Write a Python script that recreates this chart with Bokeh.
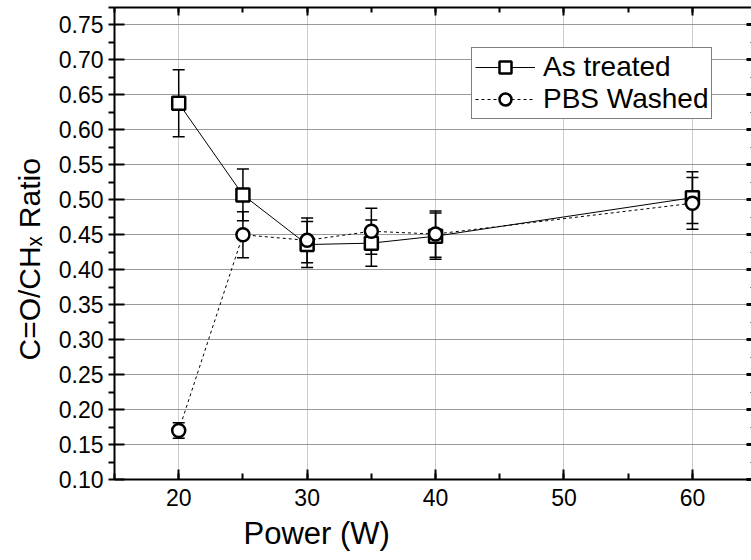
from bokeh.plotting import figure
from bokeh.models import (ColumnDataSource, Whisker, TeeHead, LinearAxis,
                          SingleIntervalTicker, NumeralTickFormatter, Range1d, Legend,
                          CustomJSTickFormatter, Title)
from bokeh.embed import file_html
from bokeh.resources import INLINE

power = [20, 25, 30, 35, 40, 60]
as_treated = [0.638, 0.507, 0.436, 0.438, 0.448, 0.503]
as_treated_err = [0.048, 0.037, 0.033, 0.033, 0.033, 0.037]
pbs_washed = [0.170, 0.450, 0.442, 0.455, 0.451, 0.495]
pbs_washed_err = [0.011, 0.033, 0.032, 0.033, 0.033, 0.037]
x_title = "Power (W)"
y_title = "C=O/CH\u2093 Ratio"
series_names = ["As treated", "PBS Washed"]

FONT = "Liberation Sans"

src_a = ColumnDataSource(dict(
    x=power, y=as_treated,
    upper=[v + e for v, e in zip(as_treated, as_treated_err)],
    lower=[v - e for v, e in zip(as_treated, as_treated_err)]))
src_b = ColumnDataSource(dict(
    x=power, y=pbs_washed,
    upper=[v + e for v, e in zip(pbs_washed, pbs_washed_err)],
    lower=[v - e for v, e in zip(pbs_washed, pbs_washed_err)]))

p = figure(width=751, height=560, output_backend="svg", toolbar_location=None,
           x_range=Range1d(15, 64.6), y_range=Range1d(0.10, 0.775),
           min_border_left=114, min_border_right=0, min_border_top=7,
           min_border_bottom=81)
p.outline_line_color = None
p.background_fill_color = "white"
p.border_fill_color = "white"

xt = SingleIntervalTicker(interval=10, num_minor_ticks=2)
yt = SingleIntervalTicker(interval=0.05, num_minor_ticks=2)

p.xaxis.ticker = xt
p.yaxis.ticker = yt
p.yaxis.formatter = NumeralTickFormatter(format="0.00")

p.xgrid.grid_line_color = "#cccccc"
p.xgrid.grid_line_width = 1
p.ygrid.grid_line_color = "#999999"
p.ygrid.grid_line_width = 1

for ax in (p.xaxis[0], p.yaxis[0]):
    ax.axis_line_width = 2
    ax.major_tick_line_width = 2
    ax.minor_tick_line_width = 2
    ax.major_label_text_font = FONT
    ax.major_label_text_font_size = "23px"
    ax.major_label_text_color = "black"

p.xaxis.major_tick_in = 10
p.xaxis.major_tick_out = 0
p.xaxis.minor_tick_in = 6
p.xaxis.minor_tick_out = 0
p.xaxis.major_label_standoff = 9

p.yaxis.major_tick_in = 10
p.yaxis.major_tick_out = 0
p.yaxis.minor_tick_in = 0
p.yaxis.minor_tick_out = 6
p.yaxis.major_label_standoff = 5

blank = CustomJSTickFormatter(code="return ''")
top = LinearAxis(ticker=xt, formatter=blank, major_label_standoff=0,
                 major_label_text_font_size="1px",
                 major_tick_in=8, major_tick_out=0, minor_tick_in=5, minor_tick_out=0,
                 axis_line_width=2, major_tick_line_width=2, minor_tick_line_width=2)
p.add_layout(top, "above")
right = LinearAxis(ticker=yt, formatter=blank, major_label_standoff=0,
                   major_label_text_font_size="1px",
                   major_tick_in=5, major_tick_out=0, minor_tick_in=1, minor_tick_out=0,
                   axis_line_color=None, major_tick_line_width=3, minor_tick_line_width=1)
p.add_layout(right, "right")

# axis titles placed off-centre like the original
p.add_layout(Title(text=x_title, align="left", offset=129, standoff=10,
                   text_font=FONT, text_font_size="31px", text_font_style="normal",
                   text_color="black"), "below")
p.add_layout(Title(text=y_title, align="left", offset=119, standoff=20,
                   text_font=FONT, text_font_size="30px", text_font_style="normal",
                   text_color="black"), "left")

wa = Whisker(base="x", upper="upper", lower="lower", source=src_a, level="underlay",
             line_width=1.5, line_color="black",
             upper_head=TeeHead(size=12, line_width=1.5),
             lower_head=TeeHead(size=12, line_width=1.5))
wb = Whisker(base="x", upper="upper", lower="lower", source=src_b, level="underlay",
             line_width=1.5, line_color="black",
             upper_head=TeeHead(size=12, line_width=1.5),
             lower_head=TeeHead(size=12, line_width=1.5))
p.add_layout(wa)
p.add_layout(wb)

la = p.line("x", "y", source=src_a, line_color="black", line_width=1)
sa = p.scatter("x", "y", source=src_a, marker="square", size=13, line_width=2.5,
               line_color="black", fill_color="white")
lb = p.line("x", "y", source=src_b, line_color="black", line_width=1, line_dash="3 3")
sb = p.scatter("x", "y", source=src_b, marker="circle", size=13, line_width=2.5,
               line_color="black", fill_color="white")

legend = Legend(items=[(series_names[0], [la, sa]), (series_names[1], [lb, sb])],
                location=(357, 360), margin=0, padding=3, spacing=0,
                glyph_width=60, glyph_height=30, label_standoff=8,
                label_text_font=FONT, label_text_font_size="28px",
                label_text_color="black",
                border_line_color="black", border_line_width=1,
                background_fill_color="white", background_fill_alpha=1)
p.add_layout(legend, "center")

open("out.html", "w").write(file_html(p, INLINE))
